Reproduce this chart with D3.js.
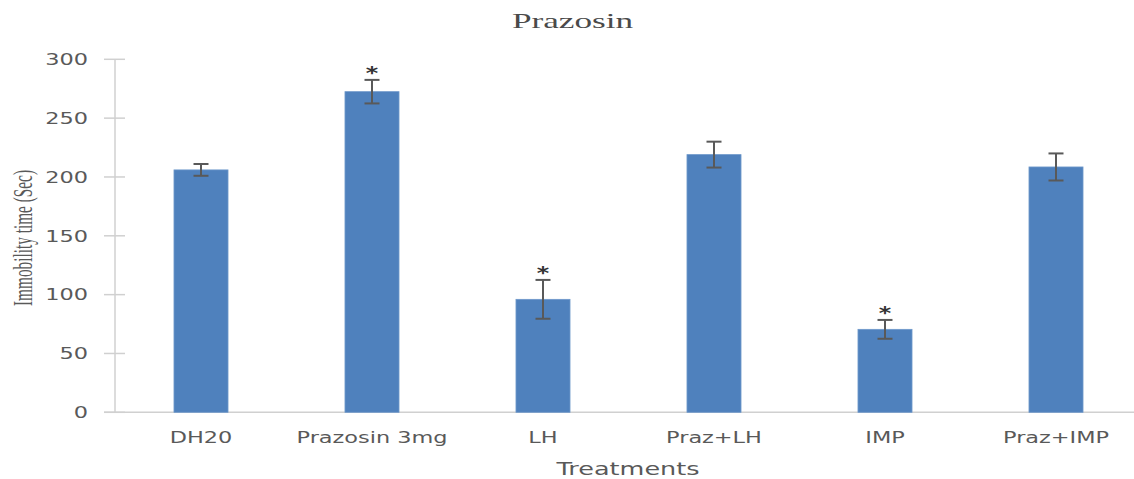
<!DOCTYPE html>
<html>
<head>
<meta charset="utf-8">
<script src="https://cdn.jsdelivr.net/npm/d3@7/dist/d3.min.js"></script>
<style>
  html, body { margin: 0; padding: 0; background: #fff; }
  svg { display: block; }
</style>
</head>
<body>
<div id="chart"></div>
<script>
// Immobility time per treatment group (mean ± SEM, seconds)
const categories = ["DH20", "Prazosin 3mg", "LH", "Praz+LH", "IMP", "Praz+IMP"];
const means      = [206, 272.5, 96, 219, 70.5, 208.5];
const errors     = [5, 10, 16.5, 11, 8, 11.5];
const significant = [false, true, true, false, true, false];
const yTicks     = [0, 50, 100, 150, 200, 250, 300];

const W = 1134, H = 479;
const svg = d3.select("#chart").append("svg")
  .attr("width", W).attr("height", H);

const axisX = 115;
const y = d3.scaleLinear().domain([0, 300]).range([412.3, 59.3]);
const x = d3.scaleBand().domain(categories)
  .range([115.5, 1141.5]).paddingInner(0.684).paddingOuter(0.342);

const labelColor = "#595959";
const sansFont = "'DejaVu Sans', Verdana, sans-serif";
const serifFont = "'Liberation Serif', 'Times New Roman', serif";

// horizontally widened text helper
function wideText(g, str, tx, ty, opts) {
  return g.append("text")
    .attr("transform", `translate(${tx},${ty}) scale(${opts.sx},1)` + (opts.rotate ? ` rotate(${opts.rotate})` : ""))
    .attr("text-anchor", opts.anchor || "middle")
    .attr("font-family", opts.family || sansFont)
    .attr("font-size", opts.size)
    .attr("font-weight", opts.weight || "normal")
    .attr("fill", opts.fill || labelColor)
    .text(str);
}

// Y axis line, x baseline and cross ticks
const axisG = svg.append("g");
axisG.append("line")
  .attr("x1", axisX).attr("x2", axisX)
  .attr("y1", y(300)).attr("y2", y(0))
  .attr("stroke", "#d0d0d0").attr("stroke-width", 1.5);
axisG.append("line")
  .attr("x1", 104).attr("x2", W)
  .attr("y1", y(0)).attr("y2", y(0))
  .attr("stroke", "#d0d0d0").attr("stroke-width", 1.5);
axisG.selectAll("line.tick").data(yTicks).enter().append("line")
  .attr("class", "tick")
  .attr("x1", 104).attr("x2", 125)
  .attr("y1", d => y(d)).attr("y2", d => y(d))
  .attr("stroke", "#d0d0d0").attr("stroke-width", 1.5);

// Y tick labels
yTicks.forEach(v => {
  wideText(svg, String(v), 88, y(v) + 5.8, { sx: 1.4, size: 16, anchor: "end" });
});

// Bars
const bw = x.bandwidth();
svg.append("g").selectAll("rect").data(categories).enter().append("rect")
  .attr("x", d => x(d))
  .attr("y", (d, i) => y(means[i]))
  .attr("width", bw)
  .attr("height", (d, i) => y(0) - y(means[i]))
  .attr("fill", "#4f81bd")
  .attr("stroke", "#6e98cb").attr("stroke-width", 0.8);

// Error bars
const errG = svg.append("g").attr("stroke", "#595959").attr("stroke-width", 2);
categories.forEach((c, i) => {
  const cx = x(c) + bw / 2;
  const top = y(means[i] + errors[i]);
  const bot = y(means[i] - errors[i]);
  errG.append("line").attr("x1", cx).attr("x2", cx).attr("y1", top).attr("y2", bot);
  errG.append("line").attr("x1", cx - 7.5).attr("x2", cx + 7.5).attr("y1", top).attr("y2", top);
  errG.append("line").attr("x1", cx - 7.5).attr("x2", cx + 7.5).attr("y1", bot).attr("y2", bot);
});

// Significance markers
categories.forEach((c, i) => {
  if (!significant[i]) return;
  const cx = x(c) + bw / 2;
  const top = y(means[i] + errors[i]);
  wideText(svg, "*", cx, top - 1, { sx: 1.4, size: 17, weight: "bold", fill: "#333" });
});

// Category labels
categories.forEach(c => {
  wideText(svg, c, x(c) + bw / 2, 443, { sx: 1.4, size: 16 });
});

// Axis titles
wideText(svg, "Treatments", 628, 475, { sx: 1.5, size: 17 });
wideText(svg, "Immobility time (Sec)", 31.5, 238, {
  sx: 1.85, size: 15.3, family: serifFont, rotate: -90
});

// Chart title
wideText(svg, "Prazosin", 572.5, 28, {
  sx: 1.6, size: 22, family: serifFont, fill: "#4a4a4a"
});
</script>
</body>
</html>
